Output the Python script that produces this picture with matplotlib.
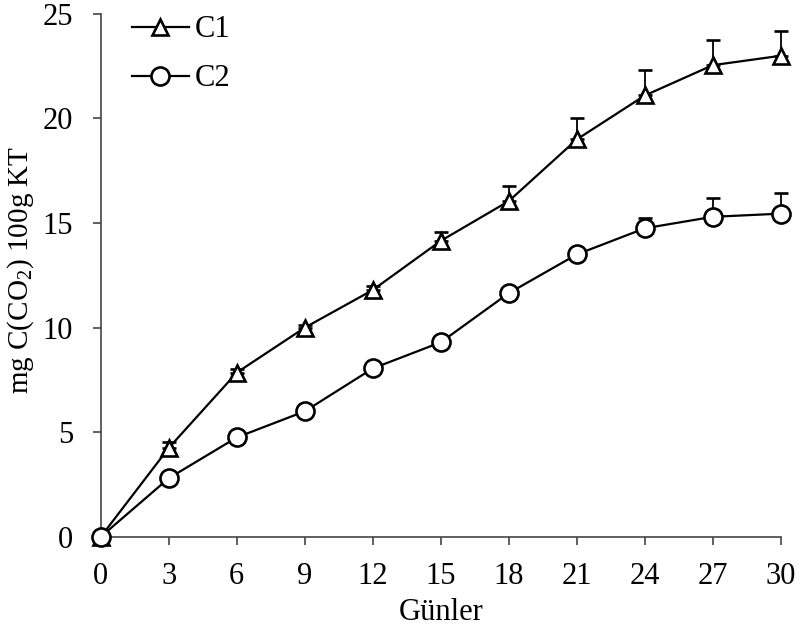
import matplotlib.pyplot as plt
from matplotlib.lines import Line2D

# Incubation days and cumulative CO2-C (mg per 100 g dry soil)
days = [0, 3, 6, 9, 12, 15, 18, 21, 24, 27, 30]
c1 = [0.0, 4.25, 7.85, 10.0, 11.8, 14.15, 16.05, 19.0, 21.1, 22.55, 23.0]
c1_err = [0.0, 0.3, 0.15, 0.15, 0.2, 0.4, 0.7, 1.0, 1.2, 1.2, 1.2]
c2 = [0.0, 2.8, 4.75, 6.0, 8.05, 9.3, 11.65, 13.5, 14.75, 15.3, 15.45]
c2_err = [0.0, 0.0, 0.1, 0.1, 0.1, 0.2, 0.3, 0.2, 0.5, 0.9, 1.0]

plt.rcParams['font.family'] = ['Liberation Serif', 'DejaVu Serif']
plt.rcParams['mathtext.fontset'] = 'custom'
plt.rcParams['mathtext.rm'] = 'Liberation Serif'

fig = plt.figure(figsize=(8, 6.33), dpi=100)
ax = fig.add_axes([0.126, 0.152, 0.85, 0.826])

line_kw = dict(color='black', linewidth=1.6, markerfacecolor='white',
               markeredgecolor='black', markeredgewidth=1.9)
err_kw = dict(ecolor='black', elinewidth=1.3, capsize=5, capthick=1.1)

series = [(c1, c1_err, '^', 12, 'C1'), (c2, c2_err, 'o', 13, 'C2')]
handles = []
for vals, err, mk, ms, name in series:
    eb = ax.errorbar(days, vals, yerr=[[0] * len(err), err], marker=mk,
                     markersize=ms, zorder=3, **line_kw, **err_kw)
    data_line, caps, bars = eb.lines
    for art in [data_line, *caps, *bars]:
        art.set_clip_on(False)
    handles.append(Line2D([], [], marker=mk, markersize=ms, label=name,
                          **line_kw))

ax.set_xlim(0, 30)
ax.set_ylim(0, 25)
ax.set_xticks(days)
ax.set_yticks([0, 5, 10, 15, 20, 25])
ax.spines['top'].set_visible(False)
ax.spines['right'].set_visible(False)
for s in ['left', 'bottom']:
    ax.spines[s].set_linewidth(1.2)
    ax.spines[s].set_color('#444444')
ax.tick_params(direction='out', length=6, width=1.2, color='#444444',
               labelsize=22)
ax.tick_params(axis='x', pad=12)
ax.tick_params(axis='y', pad=14)

ax.set_xlabel('Günler', fontsize=22, labelpad=5)
ax.set_ylabel('mg C(CO$_2$) 100g KT', fontsize=21, labelpad=1)
ax.yaxis.set_label_coords(-0.095, 0.51)

ax.legend(handles=handles, loc='upper left', frameon=False, fontsize=22,
          handlelength=1.85, labelspacing=0.65, handletextpad=0.2,
          borderpad=0, borderaxespad=0, bbox_to_anchor=(0.046, 0.997))

fig.savefig('out.png', dpi=100)
